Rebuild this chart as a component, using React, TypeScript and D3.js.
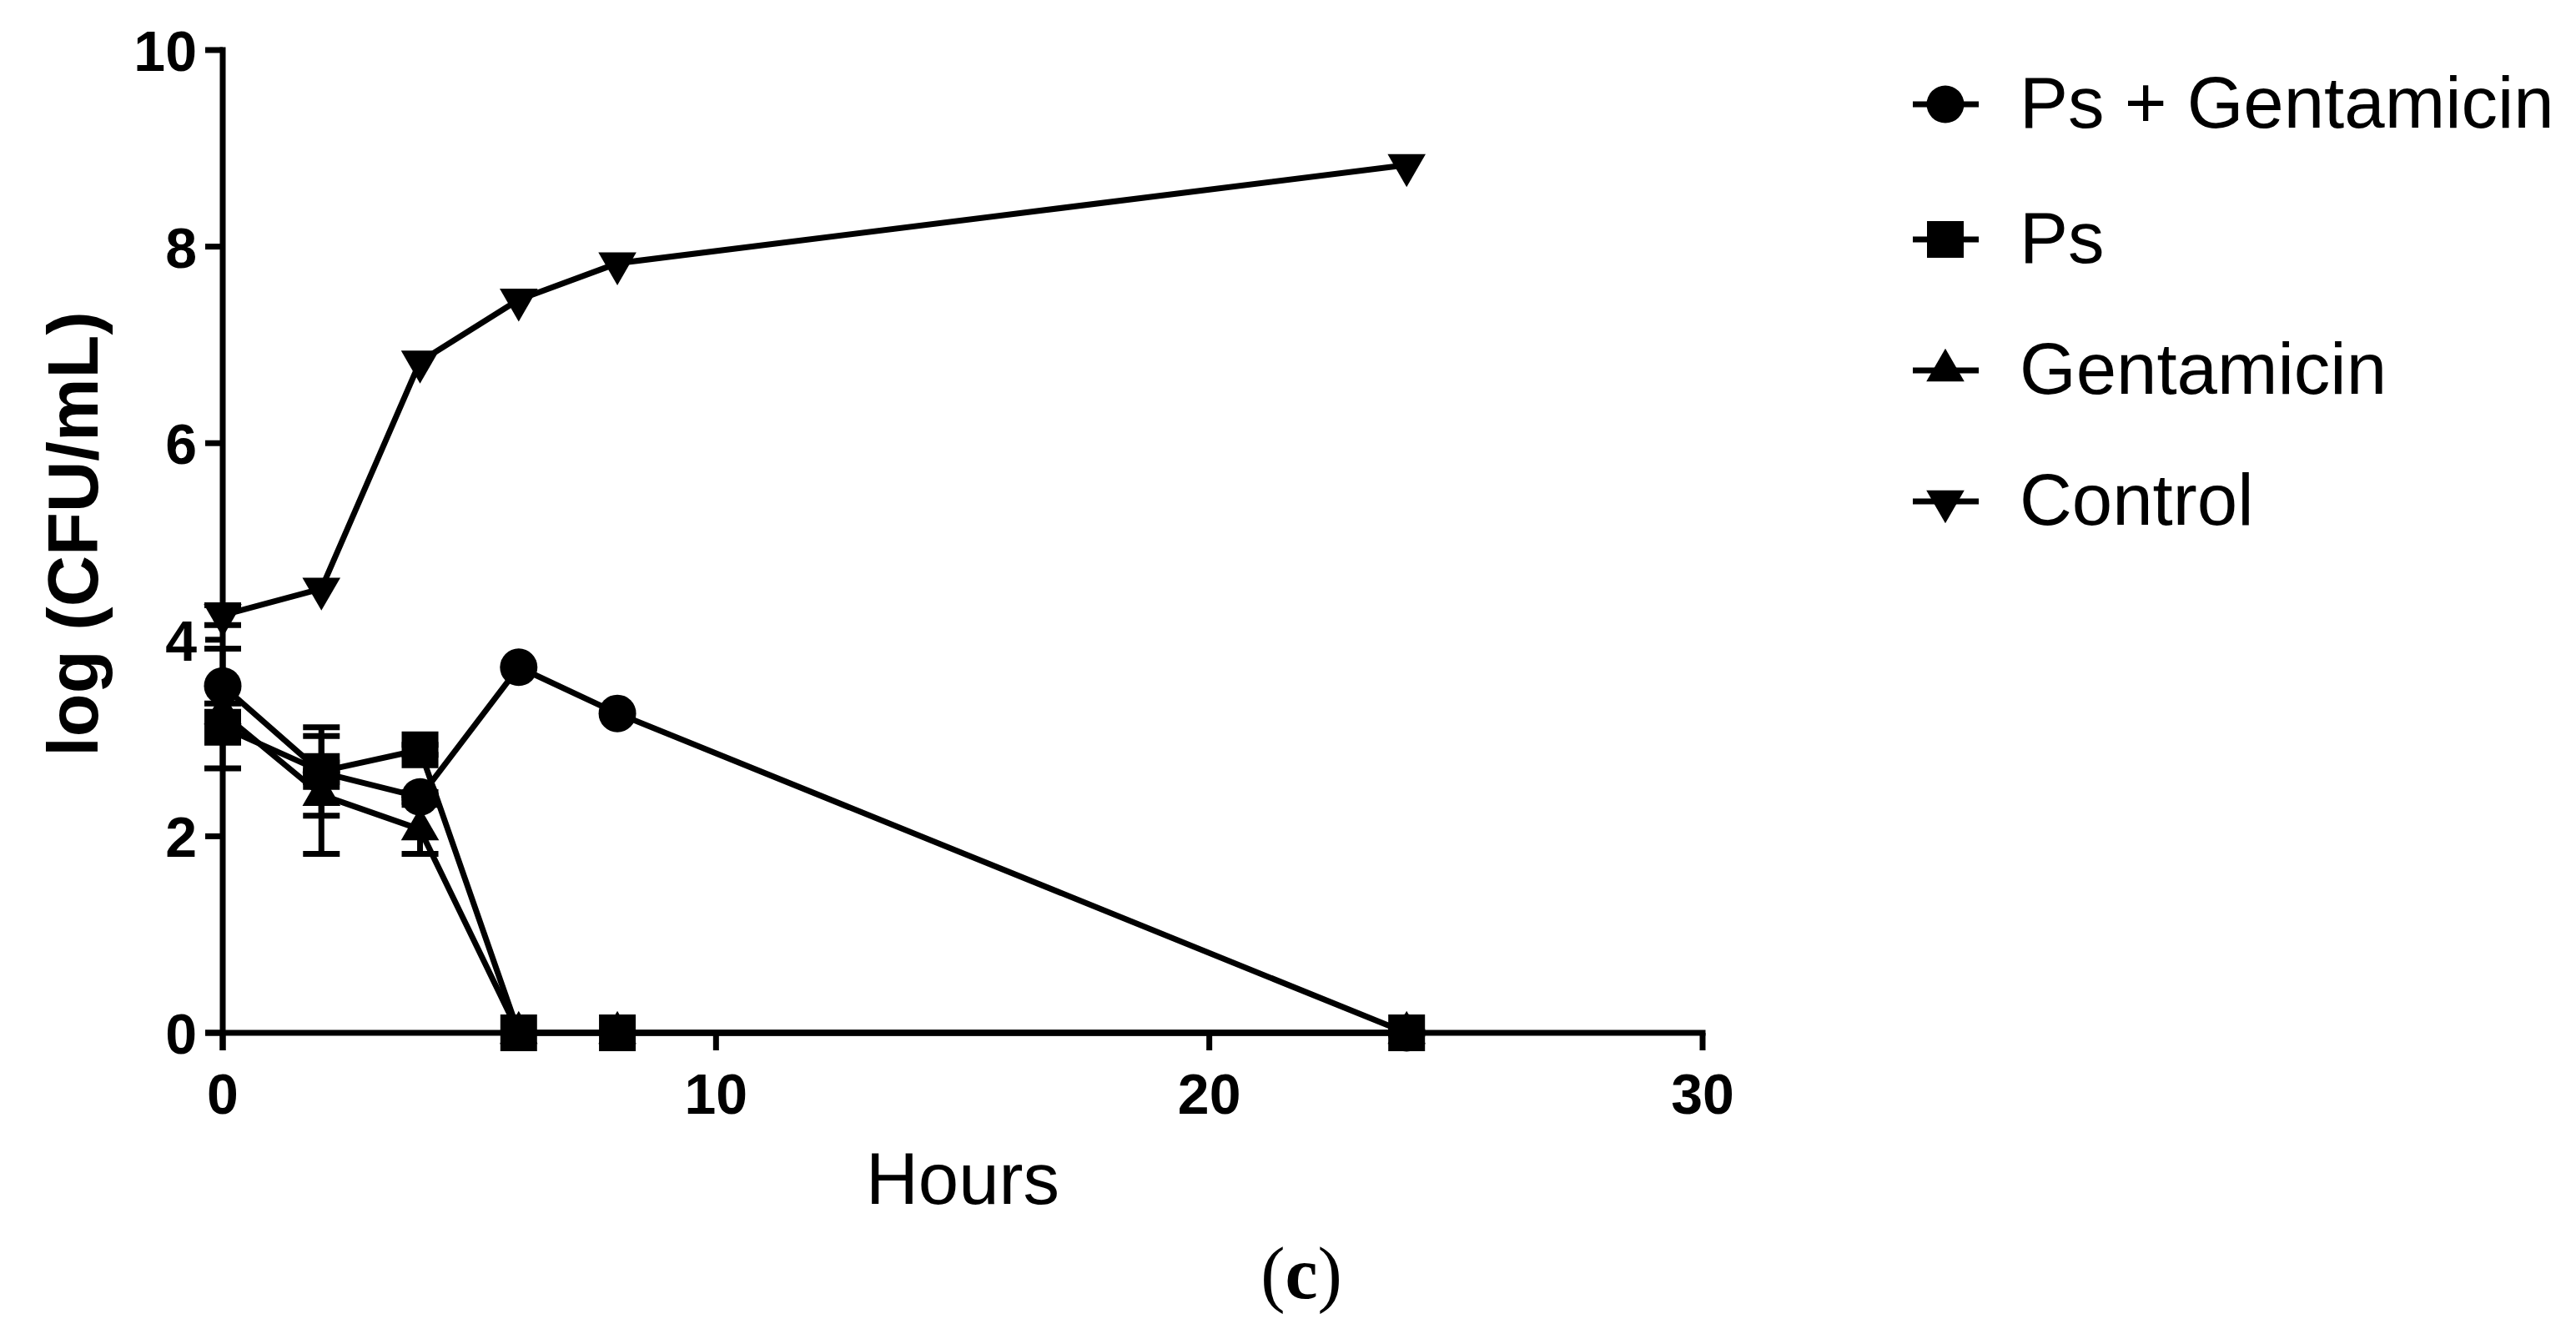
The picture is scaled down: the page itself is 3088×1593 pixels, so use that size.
import * as d3 from 'd3';

const hours = [0, 2, 4, 6, 8, 24];

const seriesNames = ['Ps + Gentamicin', 'Ps', 'Gentamicin', 'Control'];
const symbols = ['circle', 'square', 'triangle', 'triangleDown'];

// mean log(CFU/mL) per time point
const psGent = [3.53, 2.65, 2.4, 3.72, 3.25, 0];
const ps = [3.11, 2.66, 2.88, 0, 0, 0];
const gent = [3.25, 2.42, 2.07, 0, 0, 0];
const control = [4.25, 4.52, 6.83, 7.46, 7.83, 8.83];

// standard deviations
const psGentErr = [0.38, 0.1, 0.05, 0, 0, 0];
const psErr = [0.42, 0.45, 0.05, 0, 0, 0];
const gentErr = [0.1, 0.6, 0.25, 0, 0, 0];
const controlErr = [0.1, 0, 0, 0, 0, 0];

const xTicks = [0, 10, 20, 30];
const yTicks = [0, 2, 4, 6, 8, 10];

const W = 3088;
const H = 1593;
const left = 267;
const right = 2041;
const top = 60;
const bottom = 1238;

const x = d3.scaleLinear().domain([0, 30]).range([left, right]);
const y = d3.scaleLinear().domain([0, 10]).range([bottom, top]);

const sans = '"Liberation Sans", Arial, sans-serif';

function symbolPath(kind: string) {
  if (kind === 'circle') return d3.symbol(d3.symbolCircle, 1590)()!;
  if (kind === 'square') return d3.symbol(d3.symbolSquare, 1936)()!;
  return d3.symbol(d3.symbolTriangle, 900)()!;
}

function Marker({ kind, cx, cy }: { kind: string; cx: number; cy: number }) {
  const rot = kind === 'triangleDown' ? ' rotate(180)' : '';
  return <path d={symbolPath(kind)} transform={`translate(${cx},${cy})${rot}`} fill="#000" />;
}

export default function App() {
  const values = [psGent, ps, gent, control];
  const errors = [psGentErr, psErr, gentErr, controlErr];
  const line = d3
    .line<number>()
    .x((_, i) => x(hours[i]))
    .y((d) => y(d));

  const legendY = [125, 287, 444, 601];

  return (
    <svg
      width={W}
      height={H}
      style={{ position: 'absolute', left: 0, top: 0, background: '#fff' }}
    >
      {/* axes */}
      <g stroke="#000" strokeWidth={7} fill="none">
        <line x1={left} x2={left} y1={top - 3.5} y2={bottom + 21} />
        <line x1={left - 21} x2={right + 3.5} y1={bottom} y2={bottom} />
        {yTicks.map((t) => (
          <line key={'yt' + t} x1={left - 21} x2={left} y1={y(t)} y2={y(t)} />
        ))}
        {xTicks.map((t) => (
          <line key={'xt' + t} x1={x(t)} x2={x(t)} y1={bottom} y2={bottom + 21} />
        ))}
      </g>
      <g fontFamily={sans} fontWeight="bold" fontSize={68} fill="#000">
        {yTicks.map((t) => (
          <text key={'yl' + t} x={236} y={y(t) + 25} textAnchor="end">
            {t}
          </text>
        ))}
        {xTicks.map((t) => (
          <text key={'xl' + t} x={x(t)} y={1335} textAnchor="middle">
            {t}
          </text>
        ))}
      </g>
      <text
        transform="translate(117,640) rotate(-90)"
        textAnchor="middle"
        fontFamily={sans}
        fontWeight="bold"
        fontSize={85}
      >
        log (CFU/mL)
      </text>
      <text x={1154} y={1443} textAnchor="middle" fontFamily={sans} fontSize={87}>
        Hours
      </text>
      <text
        x={1560}
        y={1556}
        textAnchor="middle"
        fontFamily='"Liberation Serif", "Times New Roman", serif'
        fontSize={88}
      >
        (<tspan fontWeight="bold">c</tspan>)
      </text>

      {/* series */}
      {values.map((vals, s) => (
        <g key={'s' + s}>
          <path d={line(vals)!} fill="none" stroke="#000" strokeWidth={7} strokeLinejoin="round" />
          <g stroke="#000" strokeWidth={7}>
            {vals.map((v, i) =>
              errors[s][i] > 0 ? (
                <g key={'e' + i}>
                  <line x1={x(hours[i])} x2={x(hours[i])} y1={y(v + errors[s][i])} y2={y(v - errors[s][i])} />
                  <line x1={x(hours[i]) - 22} x2={x(hours[i]) + 22} y1={y(v + errors[s][i])} y2={y(v + errors[s][i])} />
                  <line x1={x(hours[i]) - 22} x2={x(hours[i]) + 22} y1={y(v - errors[s][i])} y2={y(v - errors[s][i])} />
                </g>
              ) : null
            )}
          </g>
          {vals.map((v, i) => (
            <Marker key={'m' + i} kind={symbols[s]} cx={x(hours[i])} cy={y(v)} />
          ))}
        </g>
      ))}

      {/* legend */}
      {seriesNames.map((name, i) => (
        <g key={'lg' + i}>
          <line x1={2293} x2={2372} y1={legendY[i]} y2={legendY[i]} stroke="#000" strokeWidth={7} />
          <Marker kind={symbols[i]} cx={2332} cy={legendY[i]} />
          <text x={2421} y={legendY[i] + 28} fontFamily={sans} fontSize={87}>
            {name}
          </text>
        </g>
      ))}
    </svg>
  );
}
